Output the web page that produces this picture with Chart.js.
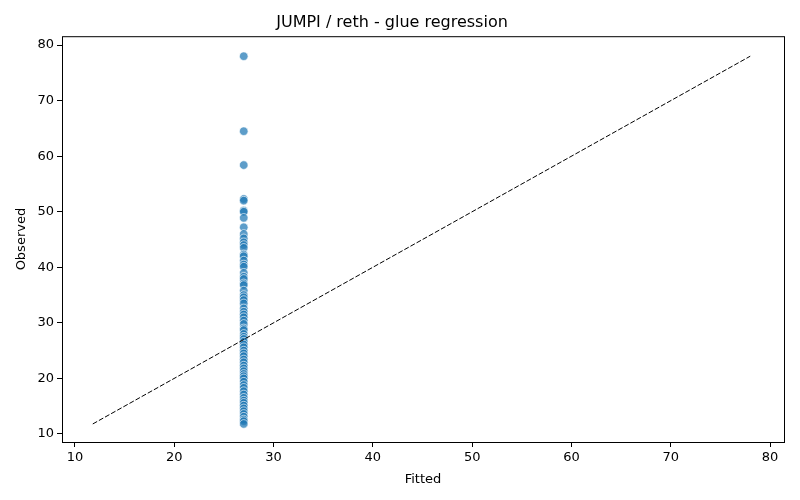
<!DOCTYPE html>
<html>
<head>
<meta charset="utf-8">
<script src="https://cdn.jsdelivr.net/npm/chart.js@4"></script>
<style>
  body { margin: 0; background: #fff; }
  #wrap { width: 800px; height: 500px; }
</style>
</head>
<body>
<div id="wrap"><canvas id="chart"></canvas></div>
<script>
// fitted value is the same for every sample
const fittedValue = 27.0
const observed = [
  78.0, 64.5, 58.4, 52.3, 52.0, 50.2, 50.0, 48.9, 47.2, 46.0, 45.2, 44.5, 44.0, 43.5,
  42.3, 42.0, 41.2, 40.5, 40.1, 39.0, 38.3, 37.9, 37.1, 36.8, 35.8, 35.0, 34.6, 34.1,
  33.5, 32.6, 32.0, 31.5, 31.0, 30.4, 29.8, 29.0, 28.7, 28.0, 27.5, 27.1, 26.6, 26.1,
  25.6, 25.0, 24.5, 24.0, 23.4, 22.9, 22.3, 21.8, 21.3, 20.8, 20.4, 20.0, 19.4, 18.8,
  18.3, 17.7, 17.1, 16.5, 16.0, 15.6, 15.1, 14.6, 14.1, 13.6, 13.1, 12.6, 12.3, 11.8
]
const diagonal = [11.8, 78.0]
const tickValues = [10, 20, 30, 40, 50, 60, 70, 80]

const points = observed.map(v => ({ x: fittedValue, y: v }))
const linePts = diagonal.map(v => ({ x: v, y: v }))

// draws the full box around the plot area like matplotlib
const frame = {
  id: 'frame',
  afterDraw(chart) {
    const { ctx, chartArea: a } = chart
    ctx.save()
    ctx.strokeStyle = '#000'
    ctx.lineWidth = 1
    ctx.strokeRect(a.left + 0.5, a.top + 0.5, a.right - a.left, a.bottom - a.top)
    ctx.restore()
  }
}

const font = { family: 'DejaVu Sans', size: 13 }

new Chart(document.getElementById('chart'), {
  type: 'scatter',
  data: {
    datasets: [
      {
        data: points,
        backgroundColor: 'rgba(31,119,180,0.72)',
        borderColor: 'rgba(255,255,255,0.8)',
        borderWidth: 0.8,
        pointRadius: 4.3,
        order: 2
      },
      {
        type: 'line',
        data: linePts,
        borderColor: '#000',
        borderWidth: 1,
        borderDash: [5, 2],
        pointRadius: 0,
        fill: false,
        order: 1
      }
    ]
  },
  options: {
    responsive: true,
    maintainAspectRatio: false,
    animation: false,
    layout: { padding: { right: 16, left: 0, bottom: 0 } },
    plugins: {
      legend: { display: false },
      tooltip: { enabled: false },
      title: {
        display: true,
        text: 'JUMPI / reth - glue regression',
        color: '#000',
        font: { family: 'DejaVu Sans', size: 16, weight: 'normal' },
        padding: { top: 13, bottom: 4 }
      }
    },
    scales: {
      x: {
        type: 'linear',
        min: 8.7,
        max: 81.4,
        afterBuildTicks(axis) {
          axis.ticks = tickValues.map(v => ({ value: v }))
        },
        afterFit(axis) { axis.height = 58 },
        grid: { drawOnChartArea: false, drawTicks: true, tickLength: 5, color: '#000' },
        border: { display: false },
        ticks: { color: '#000', font, padding: 3, maxRotation: 0 },
        title: { display: true, text: 'Fitted', color: '#000', font, padding: { top: 4, bottom: 13 } }
      },
      y: {
        type: 'linear',
        min: 8.55,
        max: 81.6,
        afterBuildTicks(axis) {
          axis.ticks = tickValues.map(v => ({ value: v }))
        },
        afterFit(axis) { axis.width = 62 },
        grid: { drawOnChartArea: false, drawTicks: true, tickLength: 5, color: '#000' },
        border: { display: false },
        ticks: { color: '#000', font, padding: 3 },
        title: { display: true, text: 'Observed', color: '#000', font, padding: { top: 14, bottom: 2 } }
      }
    }
  },
  plugins: [frame]
})
</script>
</body>
</html>
